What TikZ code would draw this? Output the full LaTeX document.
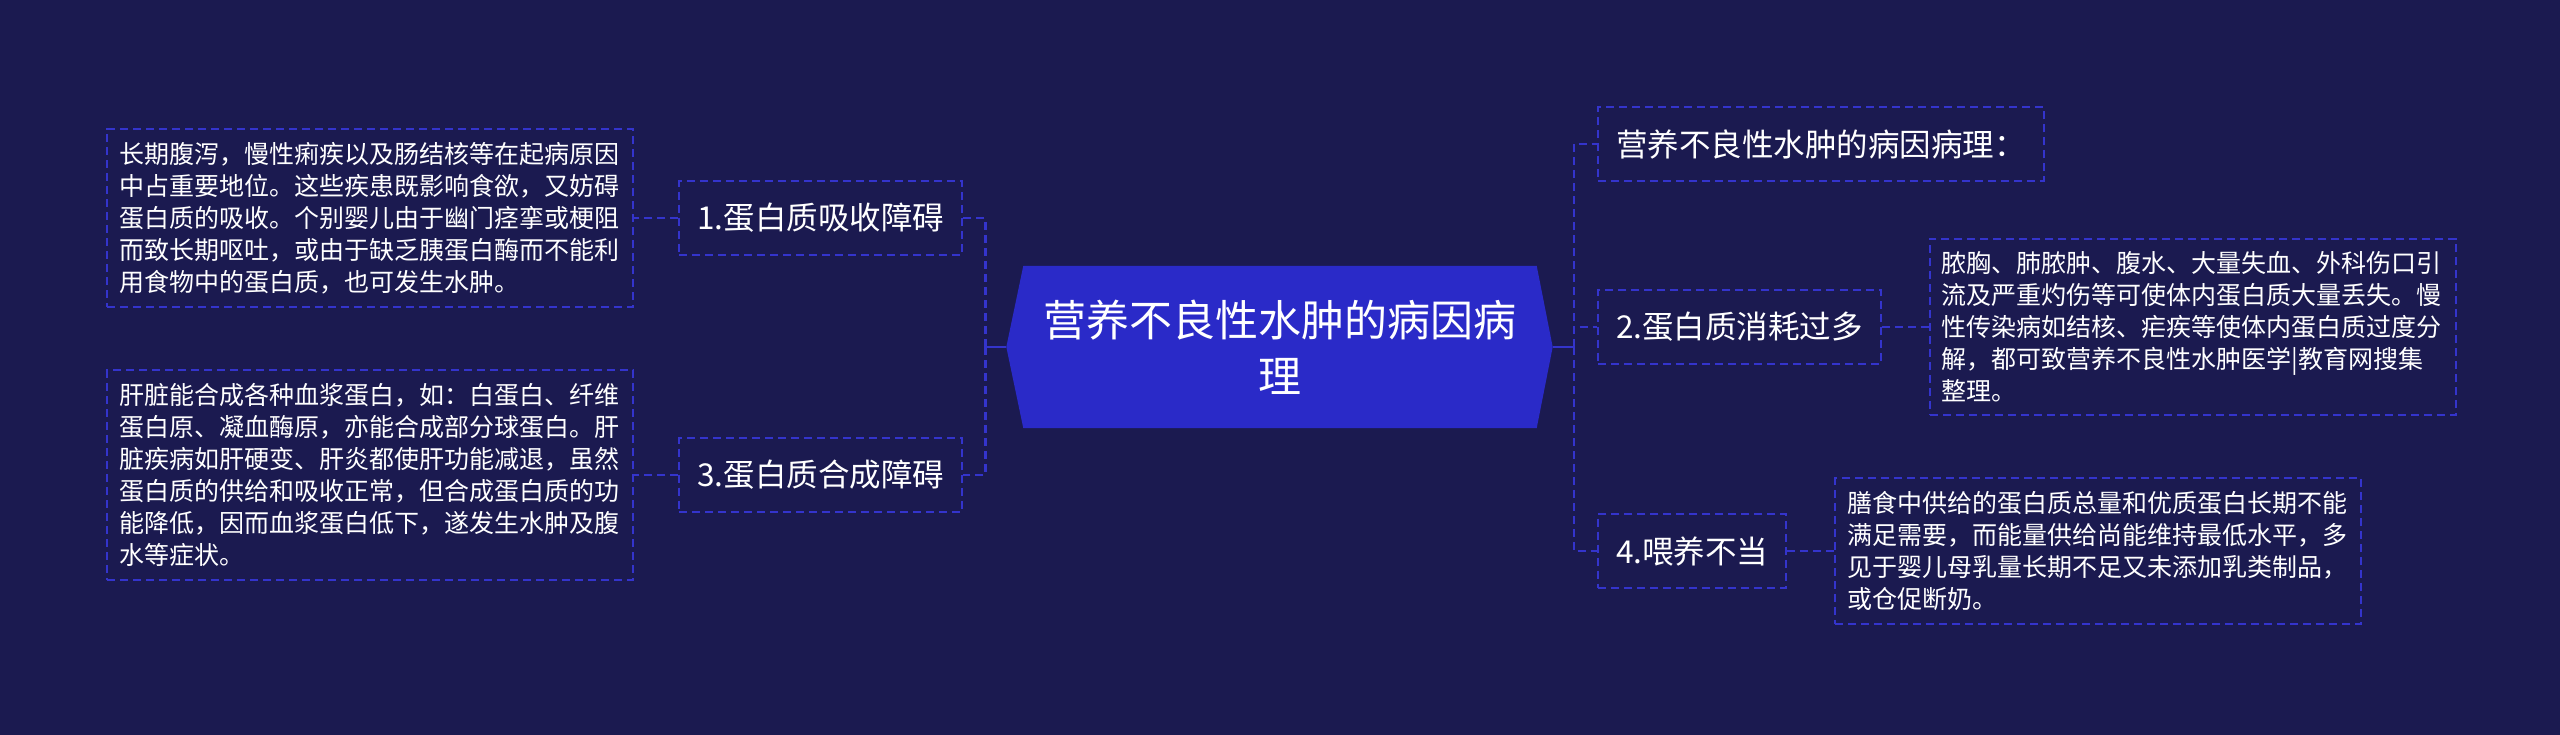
\documentclass[tikz,border=0pt]{standalone}
\usepackage{fontspec}
\setmainfont{Noto Sans CJK SC}
\usetikzlibrary{positioning, backgrounds}

\definecolor{pagebg}{HTML}{1B1A50}
\definecolor{hexfill}{HTML}{2A2AC8}
\definecolor{linkcol}{HTML}{3434CC}

\begin{document}
\begin{tikzpicture}[
  x=1pt, y=-1pt,
  font=\fontsize{25}{32}\selectfont,
  leaf/.style={draw=linkcol, line width=2pt, dash pattern=on 8pt off 5pt, text=white, align=left, text width=502pt, inner xsep=12pt, inner ysep=13pt},
  sub/.style={draw=linkcol, line width=2pt, dash pattern=on 8pt off 5pt, text=white, font=\fontsize{31.5}{38}\selectfont, inner xsep=18pt, minimum height=74pt},
  root/.style={text=white, align=center, font=\fontsize{43}{56}\selectfont, minimum width=513pt, minimum height=162pt},
  link/.style={linkcol, line width=2.4pt, dash pattern=on 8pt off 5pt},
  stub/.style={linkcol, line width=2.4pt}
]
\useasboundingbox (0,0) rectangle (2560,735);

% ===== Centre =====
\node[root] (root) at (1280,347) {营养不良性水肿的病因病\\理};

\begin{scope}[on background layer]
  \fill[pagebg] (0,0) rectangle (2560,735);
  \fill[hexfill] (root.north west) -- (root.north east) -- ([xshift=16pt]root.east)
    -- (root.south east) -- (root.south west) -- ([xshift=-17pt]root.west) -- cycle;
\end{scope}

% ===== Left branches =====
\node[sub, anchor=east] (b1) at (963,218) {1.蛋白质吸收障碍};
\node[sub, anchor=east] (b3) at (963,475) {3.蛋白质合成障碍};

\node[leaf, left=44pt of b1] (t1) {长期腹泻，慢性痢疾以及肠结核等在起病原因\\
中占重要地位。这些疾患既影响食欲，又妨碍\\
蛋白质的吸收。个别婴儿由于幽门痉挛或梗阻\\
而致长期呕吐，或由于缺乏胰蛋白酶而不能利\\
用食物中的蛋白质，也可发生水肿。};

\node[leaf, left=44pt of b3] (t3) {肝脏能合成各种血浆蛋白，如：白蛋白、纤维\\
蛋白原、凝血酶原，亦能合成部分球蛋白。肝\\
脏疾病如肝硬变、肝炎都使肝功能减退，虽然\\
蛋白质的供给和吸收正常，但合成蛋白质的功\\
能降低，因而血浆蛋白低下，遂发生水肿及腹\\
水等症状。};

% ===== Right branches =====
\node[sub, anchor=west] (r0) at (1597,144) {营养不良性水肿的病因病理：};
\node[sub, anchor=west] (r2) at (1597,327) {2.蛋白质消耗过多};
\node[sub, anchor=west] (r4) at (1597,551) {4.喂养不当};

\node[leaf, right=47pt of r2] (t2) {脓胸、肺脓肿、腹水、大量失血、外科伤口引\\
流及严重灼伤等可使体内蛋白质大量丢失。慢\\
性传染病如结核、疟疾等使体内蛋白质过度分\\
解，都可致营养不良性水肿医学|教育网搜集\\
整理。};

\node[leaf, right=47pt of r4] (t4) {膳食中供给的蛋白质总量和优质蛋白长期不能\\
满足需要，而能量供给尚能维持最低水平，多\\
见于婴儿母乳量长期不足又未添加乳类制品，\\
或仓促断奶。};

% ===== Connectors =====
\draw[stub] ([xshift=-17pt]root.west) -- ++(-21,0) coordinate (lj);
\draw[link] (lj) |- (b1.east);
\draw[link] (lj) |- (b3.east);
\draw[link] (b1.west) -- (t1.east);
\draw[link] (b3.west) -- (t3.east);

\draw[stub] ([xshift=16pt]root.east) -- ++(21,0) coordinate (rj);
\draw[link] (rj) |- (r0.west);
\draw[link] (rj) |- (r2.west);
\draw[link] (rj) |- (r4.west);
\draw[link] (r2.east) -- (t2.west);
\draw[link] (r4.east) -- (t4.west);

\end{tikzpicture}
\end{document}
